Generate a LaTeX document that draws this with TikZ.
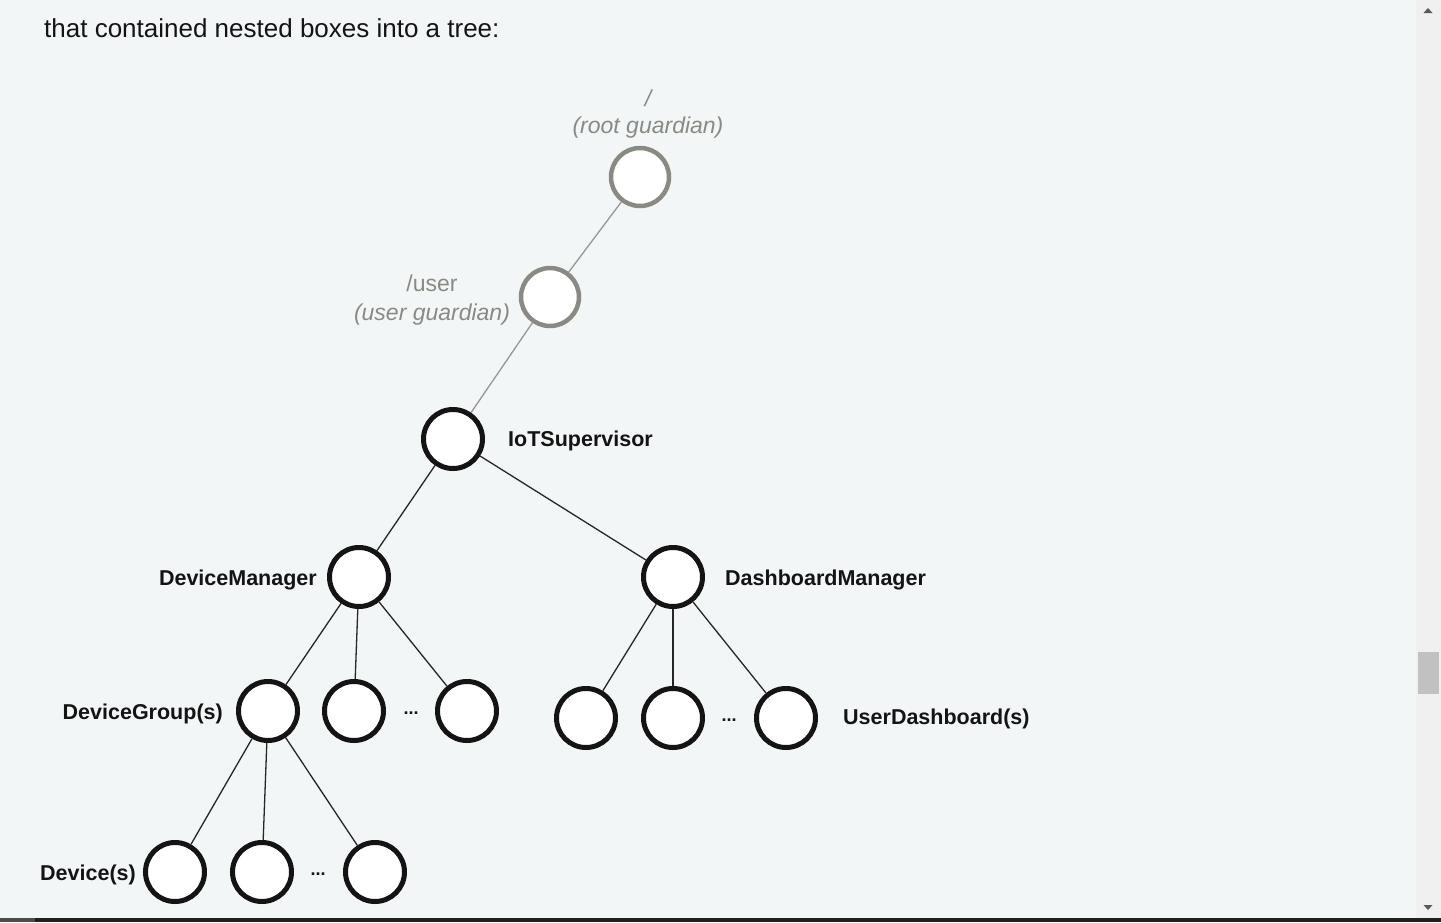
\documentclass[tikz,border=0pt]{standalone}
\usepackage{fontspec}
\setmainfont{Liberation Sans}
\usepackage{tikz}

\definecolor{pagebg}{RGB}{243,246,247}
\definecolor{guardgray}{RGB}{138,138,133}
\definecolor{edgegray}{RGB}{150,150,148}
\definecolor{inkblack}{RGB}{20,20,20}
\definecolor{scrollbg}{RGB}{240,240,240}
\definecolor{thumbgray}{RGB}{193,193,193}

\tikzset{
    actor/.style={circle, draw=inkblack, line width=5pt, fill=white,
        minimum size=59pt, inner sep=0pt},
    guardian/.style={actor, draw=guardgray, line width=4.5pt, minimum size=58pt},
    link/.style={draw=black!85, line width=1.3pt},
    guardlink/.style={draw=edgegray, line width=1.3pt},
    actorlabel/.style={inner sep=0pt, text=inkblack,
        font=\fontsize{21.5}{25}\selectfont\bfseries},
    guardlabel/.style={inner sep=0pt, text=guardgray,
        font=\fontsize{23}{28}\selectfont},
    more/.style={inner sep=0pt, text=inkblack,
        font=\fontsize{18}{20}\selectfont\bfseries},
}

\begin{document}
\begin{tikzpicture}[x=1pt,y=-1pt]
            % page, scroll bar and bottom edge
            \fill[pagebg] (0,0) rectangle (1441,922);
            \fill[scrollbg] (1416,0) rectangle (1441,918);
            \fill[thumbgray] (1418,652) rectangle (1439,694);
            \fill[black!65] (1423.5,13) -- (1432.5,13) -- (1428,8) -- cycle;
            \fill[black!65] (1423.5,905) -- (1432.5,905) -- (1428,910) -- cycle;
            \fill[black!88] (0,918) rectangle (1441,922);
            \fill[black!70] (0,918) rectangle (35,922);

            \node[anchor=base west, inner sep=0pt, text=inkblack,
                font=\fontsize{26}{30}\selectfont] (intro) at (44,37)
                {that contained nested boxes into a tree:};

            % guardians
            \node[guardian] (root) at (640,177) {};
            \node[guardian] (user) at (550,297) {};
            \node[guardlabel, anchor=base] (rootpath) at (648,106) {\itshape /};
            \node[guardlabel, anchor=base] (rootname) at (648,133) {\itshape (root guardian)};
            \node[guardlabel, anchor=base] (userpath) at (432,291) {/user};
            \node[guardlabel, anchor=base] (username) at (432,320) {\itshape (user guardian)};

            % actors
            \node[actor] (iot) at (453,439) {};
            \node[actor] (devmgr) at (359,577) {};
            \node[actor] (dashmgr) at (673,577) {};
            \node[actor] (group1) at (268,711) {};
            \node[actor] (group2) at (354,711) {};
            \node[actor] (group3) at (467,711) {};
            \node[actor] (dash1) at (586,718) {};
            \node[actor] (dash2) at (673,718) {};
            \node[actor] (dash3) at (786,718) {};
            \node[actor] (device1) at (175,872) {};
            \node[actor] (device2) at (262,872) {};
            \node[actor] (device3) at (375,872) {};

            \node[actorlabel, anchor=base west] (iotlbl) at (508,446) {IoTSupervisor};
            \node[actorlabel, anchor=base east] (devmgrlbl) at (317,585) {DeviceManager};
            \node[actorlabel, anchor=base west] (dashmgrlbl) at (725,585) {DashboardManager};
            \node[actorlabel, anchor=base east] (grouplbl) at (223,719) {DeviceGroup(s)};
            \node[actorlabel, anchor=base west] (dashlbl) at (843,724) {UserDashboard(s)};
            \node[actorlabel, anchor=base east] (devicelbl) at (136,880) {Device(s)};

            \node[more] (groupmore) at (411,713) {...};
            \node[more] (dashmore) at (729,720) {...};
            \node[more] (devicemore) at (318,874) {...};

            % edges
            \draw[guardlink] (root) -- (user);
            \draw[guardlink] (user) -- (iot);
            \draw[link] (iot) -- (devmgr);
            \draw[link] (iot) -- (dashmgr);
            \draw[link] (devmgr) -- (group1);
            \draw[link] (devmgr) -- (group2);
            \draw[link] (devmgr) -- (group3);
            \draw[link] (dashmgr) -- (dash1);
            \draw[link] (dashmgr) -- (dash2);
            \draw[link] (dashmgr) -- (dash3);
            \draw[link] (group1) -- (device1);
            \draw[link] (group1) -- (device2);
            \draw[link] (group1) -- (device3);

\end{tikzpicture}
\end{document}
